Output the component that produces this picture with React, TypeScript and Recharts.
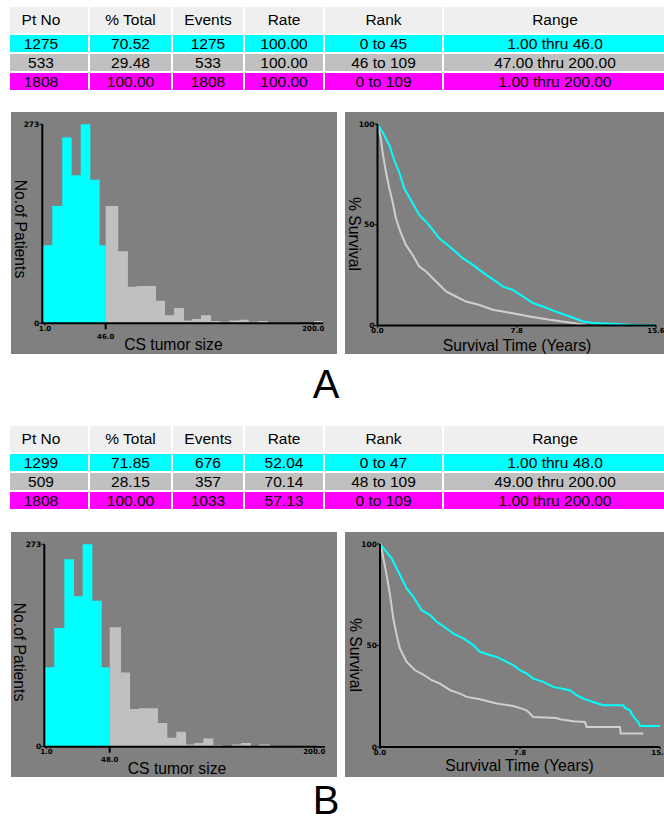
import React from "react";
import { AreaChart, Area, LineChart, Line, XAxis, YAxis } from "recharts";

// ---- tables ----
const headers = ["Pt No", "% Total", "Events", "Rate", "Rank", "Range"];
const colWidths = [78, 81, 70, 78, 117, 222];
const rowColors = ["#00ffff", "#c0c0c0", "#ff00ff"];

const rowsA = [
  ["1275", "70.52", "1275", "100.00", "0 to 45", "1.00 thru 46.0"],
  ["533", "29.48", "533", "100.00", "46 to 109", "47.00 thru 200.00"],
  ["1808", "100.00", "1808", "100.00", "0 to 109", "1.00 thru 200.00"],
];
const rowsB = [
  ["1299", "71.85", "676", "52.04", "0 to 47", "1.00 thru 48.0"],
  ["509", "28.15", "357", "70.14", "48 to 109", "49.00 thru 200.00"],
  ["1808", "100.00", "1033", "57.13", "0 to 109", "1.00 thru 200.00"],
];

// ---- histograms (CS tumor size) ----
const edgesA = [
  -1, 6.4, 13.8, 20.8, 27.5, 34.6, 41.5, 46, 55.3, 62.5, 69.0, 76.2, 83.3, 90.0, 96.7, 104.1,
  109.8, 116.7, 124.1, 131.3, 137.7, 144.9, 152.1, 158.8, 166.2, 173.3, 180.4, 187.5, 194.6,
  200.7, 206.7,
];
const countsA = [
  107, 161, 255, 203, 273, 197, 107, 161, 99, 50, 51, 51, 31, 11, 21, 4, 6, 11, 3, 2, 4, 5, 2, 3,
  1, 1, 1, 0, 0, 3,
];
const edgesB = [
  -0.6, 6.8, 14.3, 21.5, 27.9, 35.1, 42.1, 48, 56.4, 63.1, 69.8, 76.9, 83.9, 90.8, 97.5, 104.7,
  110.7, 117.6, 125.0, 132.0, 138.7, 145.6, 153.0, 159.0, 167.1, 174.1, 181.1, 188.1, 195.1,
  201.8, 208,
];
const countsB = [
  107, 160, 253, 203, 273, 197, 107, 161, 100, 51, 52, 52, 32, 12, 20, 3, 5, 11, 2, 1, 3, 5, 1, 3,
  1, 1, 1, 0, 0, 2,
];

// ---- survival curves: [years, % survival] ----
const survAHigh: [number, number][] = [
  [0, 100], [0.28, 96], [0.66, 89.6], [0.94, 82], [1.22, 76], [1.5, 68], [1.87, 62.3],
  [2.34, 54.9], [2.81, 50.7], [3.46, 43.3], [4.03, 39.2], [4.78, 33.4], [5.34, 30.1],
  [6.09, 25.1], [6.65, 21.8], [7.02, 19.3], [7.58, 17.7], [8.15, 14.4], [8.71, 11.1],
  [9.27, 9.4], [10.0, 6.9], [10.77, 4.5], [11.52, 2.0], [12.08, 1.2], [13.39, 0.7],
  [14.33, 0.3], [15.6, 0],
];
const survALow: [number, number][] = [
  [0, 100], [0.19, 92.9], [0.28, 86.3], [0.47, 76.4], [0.66, 68.1], [0.84, 61.5], [1.03, 53.2],
  [1.31, 45.8], [1.59, 40], [1.97, 35], [2.34, 29.3], [2.72, 26.8], [3.28, 21.8], [3.84, 16.9],
  [4.4, 14.4], [4.96, 11.9], [5.71, 10.2], [6.46, 7.8], [7.58, 6.1], [8.52, 4.5], [9.64, 2.8],
  [10.96, 1.2], [11.7, 0.3],
];
const survBHigh: [number, number][] = [
  [0, 100], [0.28, 97], [0.65, 92.9], [1.02, 86.3], [1.49, 78.1], [1.86, 74], [2.32, 67.4],
  [2.79, 65], [3.16, 61.7], [3.71, 58.4], [4.09, 55.9], [4.64, 53.5], [5.2, 50.2], [5.57, 46.9],
  [6.13, 45.2], [6.5, 44.4], [7.06, 41.9], [7.43, 40.3], [7.8, 37.8], [8.17, 36.2], [8.54, 33.7],
  [9.1, 32.1], [9.66, 29.6], [10.58, 28], [10.96, 25.5], [11.33, 23.8], [11.88, 22.2],
  [12.44, 20.6], [13.56, 20.6], [13.65, 19.2], [13.93, 18.1], [14.02, 16.4], [14.21, 14],
  [14.39, 12.3], [14.49, 10.4], [15.6, 10.4],
];
const survBLow: [number, number][] = [
  [0.04, 100], [0.19, 92.9], [0.37, 84.7], [0.56, 74.8], [0.74, 63.3], [0.93, 55.1],
  [1.11, 48.5], [1.49, 41.9], [1.95, 37.8], [2.41, 35.7], [2.88, 32.9], [3.34, 31.2], [3.9, 28],
  [4.46, 26.3], [4.83, 24.7], [5.57, 23.5], [6.5, 21.4], [7.43, 20.2], [7.89, 18.9], [8.17, 18.1],
  [8.54, 14.8], [9.84, 14.3], [10.03, 13.7], [10.77, 12.7], [11.42, 12.3], [11.51, 9.9],
  [13.37, 9.9], [13.41, 6.6], [14.67, 6.6],
];

const histYTicks = [0, 273];
const survYTicks = [0, 50, 100];
const survXTicks = [0, 7.8, 15.6];

const BG = "#808080";
const CYAN = "#00ffff";
const GREY = "#c0c0c0";
const tickFont = { fill: "#000", fontSize: 7, fontWeight: 700, fontFamily: "DejaVu Sans" };
const yTickFont = { ...tickFont, fontSize: 7.5 };
const titleFont = "'Liberation Sans', Arial, sans-serif";

function histRows(edges: number[], counts: number[], cut: number) {
  const k = edges.indexOf(cut);
  return edges.map((x, i) => ({
    x,
    low: i < k ? counts[i] : i === k ? 0 : null,
    high: i < k ? null : i < counts.length ? counts[i] : 0,
  }));
}

function survRows(hi: [number, number][], lo: [number, number][]) {
  const rows = [
    ...hi.map(([t, s]) => ({ t, hi: s } as any)),
    ...lo.map(([t, s]) => ({ t, lo: s } as any)),
  ];
  return rows.sort((a, b) => a.t - b.t);
}

function XTick(props: any) {
  const { x, y, payload, cut, fmt } = props;
  const isCut = payload.value === cut;
  return (
    <g>
      <line x1={x} x2={x} y1={y} y2={y + (isCut ? 6 : 2)} stroke="#000" strokeWidth={isCut ? 2 : 1.5} />
      <text x={x} y={y + (isCut ? 15.5 : 7.5)} textAnchor="middle" {...tickFont}>
        {fmt(payload.value)}
      </text>
    </g>
  );
}

function StatsTable({ top, rows }: { top: number; rows: string[][] }) {
  const row = (cells: string[], bg: string, h: number, key: string) => (
    <div key={key} style={{ display: "flex", gap: 2 }}>
      {cells.map((c, j) => (
        <div
          key={j}
          style={{
            width: colWidths[j],
            height: h,
            lineHeight: h + "px",
            background: bg,
            textAlign: "center",
            paddingRight: j === 0 ? 16 : 0,
            boxSizing: "border-box",
            whiteSpace: "nowrap",
          }}
        >
          {c}
        </div>
      ))}
    </div>
  );
  return (
    <div
      style={{
        position: "absolute",
        left: 10,
        top,
        display: "flex",
        flexDirection: "column",
        gap: 2,
        fontFamily: titleFont,
        fontSize: 15.5,
        color: "#000",
      }}
    >
      {row(headers, "#efefef", 26, "h")}
      {rows.map((r, i) => row(r, rowColors[i], 17, "r" + i))}
    </div>
  );
}

type Box = { left: number; top: number; width: number; height: number };
type Plot = { l: number; t: number; r: number; b: number };

function AxisTitle({ x, y, text, rotate }: { x: number; y: number; text: string; rotate?: boolean }) {
  return (
    <div
      style={{
        position: "absolute",
        left: x,
        top: y,
        transform: `translate(-50%, -50%)${rotate ? " rotate(90deg)" : ""}`,
        whiteSpace: "nowrap",
        fontFamily: titleFont,
        fontSize: 15.7,
        color: "#000",
        lineHeight: 1,
      }}
    >
      {text}
    </div>
  );
}

function Histogram({
  box, plot, edges, counts, cut, domain, yTitle, xTitle,
}: {
  box: Box; plot: Plot; edges: number[]; counts: number[]; cut: number; domain: [number, number];
  yTitle: [number, number]; xTitle: [number, number];
}) {
  const data = histRows(edges, counts, cut);
  return (
    <div style={{ position: "absolute", ...box, background: BG }}>
      <AreaChart
        width={box.width}
        height={box.height}
        data={data}
        margin={{ top: plot.t, right: box.width - plot.r, bottom: 0, left: 0 }}
      >
        <XAxis
          dataKey="x"
          type="number"
          domain={domain}
          allowDataOverflow
          ticks={[1, cut, 200]}
          interval={0}
          height={box.height - plot.b}
          tickSize={0}
          tickMargin={0}
          axisLine={{ stroke: "#000", strokeWidth: 2 }}
          tickLine={false}
          tick={<XTick cut={cut} fmt={(v: number) => v.toFixed(1)} />}
        />
        <YAxis
          type="number"
          domain={[0, 273]}
          ticks={histYTicks}
          interval={0}
          width={plot.l}
          tickSize={3}
          tickMargin={0}
          axisLine={{ stroke: "#000", strokeWidth: 2 }}
          tickLine={{ stroke: "#000" }}
          tick={yTickFont}
        />
        <Area type="stepAfter" dataKey="low" fill={CYAN} fillOpacity={1} stroke="none" isAnimationActive={false} />
        <Area type="stepAfter" dataKey="high" fill={GREY} fillOpacity={1} stroke="none" isAnimationActive={false} />
      </AreaChart>
      <AxisTitle x={yTitle[0]} y={yTitle[1]} text="No.of Patients" rotate />
      <AxisTitle x={xTitle[0]} y={xTitle[1]} text="CS tumor size" />
    </div>
  );
}

function Survival({
  box, plot, hi, lo, yTitle, xTitle,
}: {
  box: Box; plot: Plot; hi: [number, number][]; lo: [number, number][];
  yTitle: [number, number]; xTitle: [number, number];
}) {
  const data = survRows(hi, lo);
  return (
    <div style={{ position: "absolute", ...box, background: BG }}>
      <LineChart
        width={box.width}
        height={box.height}
        data={data}
        margin={{ top: plot.t, right: box.width - plot.r, bottom: 0, left: 0 }}
      >
        <XAxis
          dataKey="t"
          type="number"
          domain={[0, 15.6]}
          allowDataOverflow
          ticks={survXTicks}
          interval={0}
          height={box.height - plot.b}
          tickSize={0}
          tickMargin={0}
          axisLine={{ stroke: "#000", strokeWidth: 2 }}
          tickLine={false}
          tick={<XTick cut={-1} fmt={(v: number) => v.toFixed(1)} />}
        />
        <YAxis
          type="number"
          domain={[0, 100]}
          ticks={survYTicks}
          interval={0}
          width={plot.l}
          tickSize={3}
          tickMargin={0}
          axisLine={{ stroke: "#000", strokeWidth: 2 }}
          tickLine={{ stroke: "#000" }}
          tick={yTickFont}
        />
        <Line type="linear" dataKey="lo" stroke="#cfcfcf" strokeWidth={2} dot={false} connectNulls isAnimationActive={false} />
        <Line type="linear" dataKey="hi" stroke={CYAN} strokeWidth={2} dot={false} connectNulls isAnimationActive={false} />
      </LineChart>
      <AxisTitle x={yTitle[0]} y={yTitle[1]} text="% Survival" rotate />
      <AxisTitle x={xTitle[0]} y={xTitle[1]} text="Survival Time (Years)" />
    </div>
  );
}

function PanelLetter({ top, text }: { top: number; text: string }) {
  return (
    <div
      style={{
        position: "absolute",
        left: 296,
        width: 60,
        top,
        height: 30,
        textAlign: "center",
        fontFamily: titleFont,
        fontSize: 40,
        lineHeight: "30px",
        color: "#000",
      }}
    >
      {text}
    </div>
  );
}

export default function App() {
  return (
    <div
      style={{
        position: "absolute",
        left: 0,
        top: 0,
        width: 664,
        height: 817,
        overflow: "hidden",
        background: "#fff",
      }}
    >
      <StatsTable top={7} rows={rowsA} />
      <Histogram
        box={{ left: 11, top: 112, width: 326, height: 242 }}
        plot={{ l: 31.3, t: 12.3, r: 312.3, b: 211.3 }}
        edges={edgesA}
        counts={countsA}
        cut={46}
        domain={[-1, 207.4]}
        yTitle={[9, 116.5]}
        xTitle={[162.4, 233]}
      />
      <Survival
        box={{ left: 345, top: 112, width: 319, height: 242 }}
        plot={{ l: 32.5, t: 12, r: 311, b: 213.5 }}
        hi={survAHigh}
        lo={survALow}
        yTitle={[9, 122]}
        xTitle={[172, 234]}
      />
      <PanelLetter top={368.8} text="A" />

      <StatsTable top={426} rows={rowsB} />
      <Histogram
        box={{ left: 11, top: 532, width: 326, height: 245 }}
        plot={{ l: 33.3, t: 12.3, r: 314, b: 214.7 }}
        edges={edgesB}
        counts={countsB}
        cut={48}
        domain={[-0.6, 208]}
        yTitle={[8, 119.5]}
        xTitle={[166, 237]}
      />
      <Survival
        box={{ left: 345, top: 532, width: 319, height: 245 }}
        plot={{ l: 35, t: 12, r: 315, b: 215 }}
        hi={survBHigh}
        lo={survBLow}
        yTitle={[10, 122.5]}
        xTitle={[174.5, 234]}
      />
      <PanelLetter top={785} text="B" />
    </div>
  );
}
